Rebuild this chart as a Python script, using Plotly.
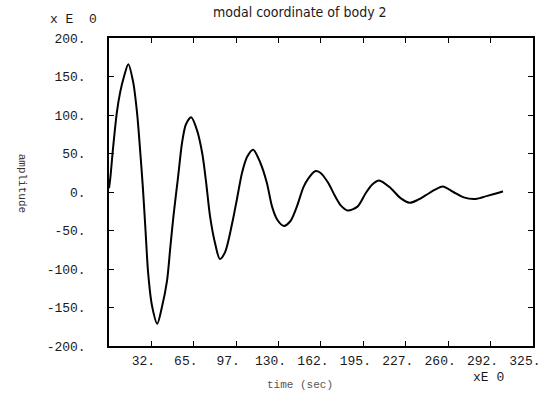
import plotly.graph_objects as go

# data
time_s = [0, 1, 3, 6, 8.5, 11.5, 14.8, 18.5, 21.5, 24, 26, 28, 30, 33, 37, 40.5, 44.5,
          47, 49.5, 53, 56, 59, 63, 67.5, 71.5, 74.5, 77.5, 81.5, 85, 89, 94.5, 98,
          102, 106, 110.5, 116, 121, 125, 129, 134, 139, 144, 149, 153, 158, 162,
          168, 173.5, 178, 183, 190.5, 197, 202, 207, 216, 223.5, 230.5, 237, 243,
          250, 256, 264, 272, 281, 290, 300.5, 302]
amplitude = [5, 18, 55, 103, 129, 150, 166, 143, 103, 51, 5, -50, -105, -148, -171, -150, -115,
             -72, -30, 20, 64, 88, 97, 80, 50, 12, -32, -68, -87, -78, -40, -10,
             25, 46, 55, 38, 12, -19, -36, -44, -38, -19, 6, 18, 27, 25,
             12, -6, -18, -24, -19, -1, 10, 15, 5, -8, -14, -10, -4,
             3, 7, 0, -7, -9, -5, 0, 1]

x_tickvals = [32.5, 65, 97.5, 130, 162.5, 195, 227.5, 260, 292.5, 325]
x_ticktext = ["32.", "65.", "97.", "130.", "162.", "195.", "227.", "260.", "292.", "325."]
y_tickvals = [200, 150, 100, 50, 0, -50, -100, -150, -200]
y_ticktext = ["200.", "150.", "100.", "50.", "0.", "-50.", "-100.", "-150.", "-200."]

title_text = "modal coordinate of body 2"
x_title = "time (sec)"
y_title = "amplitude"
exp_text = "x E  0"
exp_text_x = "xE 0"

FONT = "Liberation Mono"
NARROW = "Liberation Sans Narrow, DejaVu Sans Condensed, Liberation Sans"
INK = "#1a1a1a"

fig = go.Figure()
fig.add_trace(go.Scatter(x=time_s, y=amplitude, mode="lines",
                         line=dict(color="black", width=2, shape="spline", smoothing=0.8),
                         showlegend=False, hoverinfo="skip"))

fig.update_layout(
    width=542, height=399,
    margin=dict(l=109, r=9, t=38, b=53),
    paper_bgcolor="white", plot_bgcolor="white",
    font=dict(family=FONT, size=13, color=INK),
)
fig.update_xaxes(range=[0, 325.05], tickvals=x_tickvals, ticktext=x_ticktext,
                 showgrid=False, zeroline=False, showline=True, linecolor="black",
                 linewidth=1.5, mirror="ticks", ticks="inside", ticklen=5,
                 tickcolor="black", tickfont=dict(size=13), automargin=False,
                 ticklabelshift=-8, ticklabelstandoff=2)
fig.update_yaxes(range=[-200, 200], tickvals=y_tickvals, ticktext=y_ticktext,
                 showgrid=False, zeroline=False, showline=True, linecolor="black",
                 linewidth=1.5, mirror="ticks", ticks="inside", ticklen=5,
                 tickcolor="black", tickfont=dict(size=13), ticklabelstandoff=19,
                 automargin=False)

fig.add_annotation(text=title_text, xref="paper", yref="paper", x=0.45, y=1.0,
                   xanchor="center", yanchor="middle", yshift=26, showarrow=False,
                   font=dict(family=NARROW, size=14))
fig.add_annotation(text=exp_text, xref="paper", yref="paper", x=-0.083, y=1.0,
                   xanchor="center", yanchor="middle", yshift=19, showarrow=False,
                   font=dict(size=13))
fig.add_annotation(text=exp_text_x, xref="paper", yref="paper", x=0.895, y=0,
                   xanchor="center", yanchor="middle", yshift=-31, showarrow=False,
                   font=dict(size=13))
fig.add_annotation(text=x_title, xref="paper", yref="paper", x=0.45, y=0,
                   xanchor="center", yanchor="middle", yshift=-39, showarrow=False,
                   font=dict(size=11, color="#555"))
fig.add_annotation(text=y_title, xref="paper", yref="paper", x=-0.205, y=0.53,
                   xanchor="center", yanchor="middle",
                   textangle=90, showarrow=False, font=dict(size=11, color="#333"))

fig.write_html("out.html")
